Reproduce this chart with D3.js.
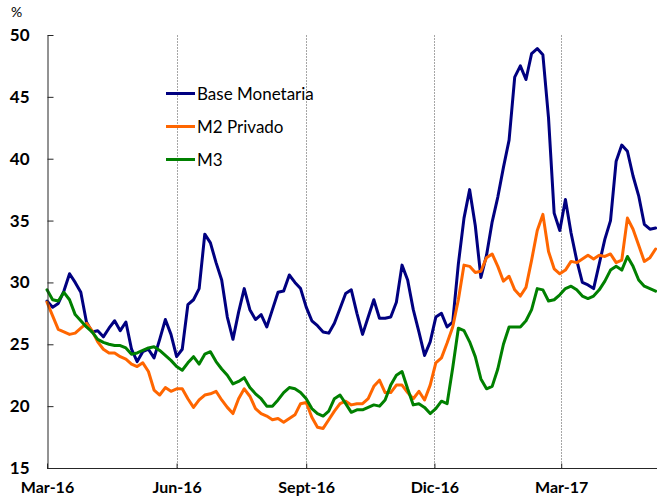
<!DOCTYPE html>
<html>
<head>
<meta charset="utf-8">
<script src="https://cdn.jsdelivr.net/npm/d3@7"></script>
<style>
  html, body { margin: 0; padding: 0; background: #fff; }
  svg { display: block; }
  text { font-family: Lato, "Open Sans", sans-serif; }
</style>
</head>
<body>
<svg id="chart" width="657" height="499"></svg>
<script>
// ---- Data ----
const startDate = "2016-03-01";   // first observation
const stepDays = 4;               // spacing between observations

const seriesNames = ["Base Monetaria", "M2 Privado", "M3"];

const baseMonetaria = [
  28.5,28.0,28.3,29.3,30.7,30.0,29.2,26.8,26.0,26.1,
  25.6,26.3,26.9,26.1,26.8,24.6,23.6,24.4,24.6,23.9,
  25.4,27.0,25.8,24.0,24.6,28.2,28.6,29.5,33.9,33.2,
  31.6,30.2,27.2,25.4,27.6,29.5,27.8,27.0,27.4,26.4,
  27.8,29.2,29.3,30.6,30.0,29.5,28.0,26.9,26.5,26.0,
  25.9,26.7,27.9,29.1,29.4,27.5,25.8,27.2,28.6,27.1,
  27.1,27.2,28.4,31.4,30.2,27.8,26.0,24.1,25.2,27.2,
  27.5,26.4,26.8,31.5,35.2,37.5,34.6,30.4,32.2,34.9,
  36.9,39.3,41.5,46.6,47.5,46.4,48.5,48.9,48.4,43.3,
  35.6,34.2,36.7,34.0,31.8,30.0,29.8,29.5,31.5,33.5,
  35.0,39.8,41.1,40.6,38.6,37.0,34.7,34.3,34.4
];

const m2Privado = [
  28.4,27.3,26.2,26.0,25.8,25.9,26.3,26.7,26.1,25.2,
  24.6,24.3,24.3,24.0,23.8,23.4,23.2,23.5,22.8,21.3,
  20.9,21.5,21.2,21.4,21.4,20.6,19.9,20.5,20.9,21.0,
  21.2,20.5,19.9,19.4,20.6,21.4,20.8,19.8,19.4,19.2,
  18.9,19.0,18.7,19.0,19.3,20.2,20.3,19.1,18.3,18.2,
  18.9,19.6,20.2,20.4,20.1,20.2,20.2,20.6,21.6,22.1,
  21.1,21.1,21.7,21.7,21.1,20.6,21.2,20.5,21.7,23.5,
  23.9,25.1,26.4,28.6,31.4,31.3,30.8,30.9,32.0,32.3,
  31.3,30.1,30.5,29.4,28.9,29.6,31.8,34.2,35.5,32.5,
  31.1,30.7,31.0,31.7,31.6,31.9,32.2,31.9,32.2,32.1,
  32.3,31.6,31.8,35.2,34.3,33.0,31.7,32.0,32.7
];

const m3 = [
  29.4,28.6,28.5,29.2,28.6,27.4,26.9,26.4,26.0,25.4,
  25.15,25.0,24.9,24.9,24.7,24.2,24.3,24.5,24.7,24.8,
  24.5,24.1,23.7,23.2,22.9,23.5,24.0,23.4,24.2,24.4,
  23.6,23.0,22.5,21.8,22.0,22.3,21.5,21.0,20.6,20.0,
  20.0,20.5,21.1,21.5,21.4,21.1,20.6,19.8,19.4,19.2,
  19.6,20.6,20.9,20.2,19.5,19.7,19.7,19.9,20.1,20.0,
  20.5,21.7,22.5,22.8,21.4,20.1,20.2,19.9,19.4,19.8,
  20.4,20.2,23.1,26.3,26.1,25.2,24.0,22.2,21.4,21.6,
  23.0,25.0,26.4,26.4,26.4,26.9,27.8,29.5,29.4,28.5,
  28.6,29.0,29.5,29.7,29.4,28.9,28.7,28.9,29.4,30.1,
  31.0,31.3,31.0,32.1,31.3,30.2,29.7,29.5,29.3
];

const xTickDates = ["2016-03-01","2016-06-01","2016-09-01","2016-12-01","2017-03-01"];
const xTickLabels = ["Mar-16","Jun-16","Sept-16","Dic-16","Mar-17"];
const yTicks = [15,20,25,30,35,40,45,50];
const xDomain = ["2016-03-01","2017-05-08"];
const yDomain = [15, 50];

// ---- Chart ----
(function () {
const parse = d3.timeParse("%Y-%m-%d");
const start = parse(startDate);
const dates = baseMonetaria.map((_, i) => d3.timeDay.offset(start, i * stepDays));

const colors = ["#000080", "#FF6600", "#008000"];
const seriesValues = [baseMonetaria, m2Privado, m3];

const svg = d3.select("#chart");
const plotL = 47, plotR = 657, plotT = 35, plotB = 468;

const x = d3.scaleTime().domain(xDomain.map(parse)).range([plotL, plotR]);
const y = d3.scaleLinear().domain(yDomain).range([plotB, plotT]);

// vertical dotted gridlines
svg.append("g").selectAll("line")
  .data(xTickDates.slice(1).map(parse))
  .join("line")
  .attr("x1", d => Math.round(x(d)) + 0.5)
  .attr("x2", d => Math.round(x(d)) + 0.5)
  .attr("y1", plotT)
  .attr("y2", plotB)
  .attr("stroke", "#a6a6a6")
  .attr("stroke-width", 1)
  .attr("stroke-dasharray", "2,1");

// lines
const line = d3.line()
  .x((d, i) => x(dates[i]))
  .y(d => y(d))
  .curve(d3.curveLinear);

svg.append("g").selectAll("path")
  .data(seriesValues)
  .join("path")
  .attr("d", d => line(d))
  .attr("fill", "none")
  .attr("stroke", (d, i) => colors[i])
  .attr("stroke-width", 3)
  .attr("stroke-linejoin", "round")
  .attr("stroke-linecap", "round");

// y axis
const yAxis = d3.axisLeft(y)
  .tickValues(yTicks)
  .tickSizeInner(-6)
  .tickSizeOuter(0)
  .tickPadding(18)
  .tickFormat(d3.format("d"));

const gy = svg.append("g")
  .attr("transform", `translate(${plotL + 0.5},0)`)
  .call(yAxis);
gy.selectAll("text")
  .attr("font-family", "Lato, sans-serif")
  .attr("font-weight", "bold")
  .attr("font-size", 17)
  .attr("fill", "#000");
gy.selectAll("line, path").attr("stroke", "#262626");

// x axis
const xAxis = d3.axisBottom(x)
  .tickValues(xTickDates.map(parse))
  .tickSizeInner(-5)
  .tickSizeOuter(0)
  .tickPadding(13)
  .tickFormat((d, i) => xTickLabels[i]);

const gx = svg.append("g")
  .attr("transform", `translate(0,${plotB + 0.5})`)
  .call(xAxis);
gx.selectAll("text")
  .attr("font-family", "Lato, sans-serif")
  .attr("font-weight", "bold")
  .attr("font-size", 16)
  .attr("fill", "#000");
gx.selectAll("line, path").attr("stroke", "#262626");
gx.select(".domain").attr("d", `M${plotL},0H${plotR}`);

// % label
svg.append("text")
  .attr("x", 11)
  .attr("y", 17)
  .attr("font-size", 14)
  .attr("fill", "#000")
  .text("%");

// legend
const legendY = [93.5, 126.5, 159.5];
const lg = svg.append("g");
seriesNames.forEach((name, i) => {
  lg.append("line")
    .attr("x1", 166).attr("x2", 195)
    .attr("y1", legendY[i]).attr("y2", legendY[i])
    .attr("stroke", colors[i])
    .attr("stroke-width", 3);
  lg.append("text")
    .attr("x", 197)
    .attr("y", legendY[i] + 6)
    .attr("font-size", 17)
    .attr("fill", "#000")
    .text(name);
});
})();
</script>
</body>
</html>
